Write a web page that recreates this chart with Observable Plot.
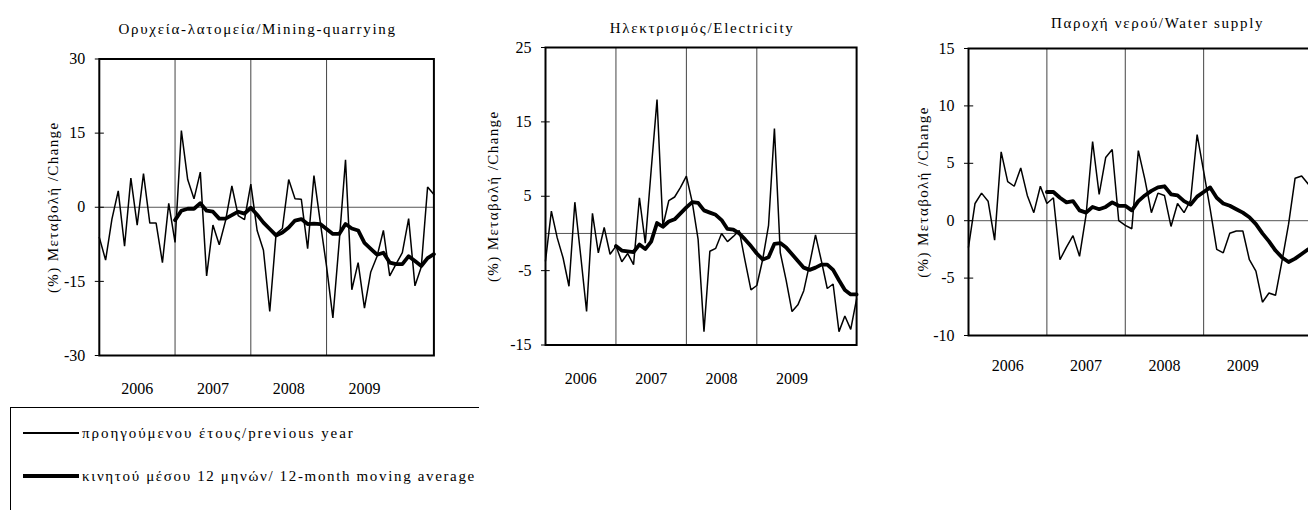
<!DOCTYPE html>
<html>
<head>
<meta charset="utf-8">
<script src="https://cdn.jsdelivr.net/npm/d3@7"></script>
<script src="https://cdn.jsdelivr.net/npm/@observablehq/plot@0.6"></script>
<style>
  body { margin: 0; background: white; }
  #root { position: relative; width: 1308px; height: 510px; overflow: hidden; background: white; font-family: "Liberation Serif", serif; }
  #root svg { position: absolute; top: 0; }
  .legend { position: absolute; left: 10px; top: 407px; width: 468px; height: 120px; border-left: 1px solid #000; border-top: 1px solid #000; }
  .legend .row { position: absolute; left: 12px; height: 16px; display: flex; align-items: center; font-size: 15px; white-space: nowrap; }
  .legend .sw { width: 56px; background: #000; margin-right: 3px; }
</style>
</head>
<body>
<div id="root"></div>
<script>
// ---------- data ----------
const years = ["2006", "2007", "2008", "2009"];
const monthsCount = 54; // Jan 2006 .. Jun 2010

const titles = ["Ορυχεία-λατομεία/Mining-quarrying", "Ηλεκτρισμός/Electricity", "Παροχή νερού/Water supply"];
const yLabel = "(%) Μεταβολή /Change";
const legendLabels = ["προηγούμενου έτους/previous year", "κινητού μέσου 12 μηνών/ 12-month moving average"];

// year-on-year change, monthly from Jan 2006
const miningYoY = [-6.1, -10.7, -2.4, 3.3, -7.9, 5.9, -3.6, 6.8, -3.2, -3.2, -11.2, 0.8,
  -7.1, 15.5, 5.6, 1.7, 7.1, -13.9, -3.6, -7.6, -2.7, 4.3, -1.7, -2.5,
  4.7, -4.7, -8.7, -21.1, -5.4, -4.3, 5.6, 1.7, 1.6, -8.4, 6.4, -3.0,
  -12.0, -22.4, -7.0, 9.6, -16.7, -11.2, -20.4, -13.1, -9.9, -4.7, -13.9, -11.5,
  -9.2, -2.3, -15.9, -12.1, 4.1, 2.6];
// 12-month moving average, monthly from Jan 2007
const miningMA = [-2.6, -0.7, -0.3, -0.3, 0.8, -0.7, -0.9, -2.3, -2.3, -1.6, -0.9, -1.3,
  -0.1, -1.5, -3.1, -4.4, -5.7, -5.1, -4.1, -2.7, -2.4, -3.4, -3.3, -3.4,
  -4.4, -5.4, -5.4, -3.4, -4.3, -4.7, -7.2, -8.4, -9.6, -9.2, -11.2, -11.5,
  -11.5, -9.9, -10.9, -11.9, -10.3, -9.5];

const elecYoY = [-3.7, 3.0, -0.6, -3.3, -7.1, 4.2, -3.0, -10.5, 2.7, -2.6, 0.8, -2.8,
  -1.7, -3.8, -2.7, -4.2, 4.8, -1.3, 8.5, 18.0, 1.0, 4.4, 4.9, 6.2,
  7.7, 4.2, -0.8, -13.2, -2.4, -2.0, 0.0, -1.1, -0.4, 0.4, -3.7, -7.6,
  -7.0, -3.5, 1.1, 14.1, -2.6, -6.3, -10.5, -9.6, -7.7, -4.1, -0.2, -3.7,
  -7.4, -6.8, -13.2, -11.1, -12.9, -8.8];
const elecMA = [-1.7, -2.3, -2.4, -2.5, -1.5, -2.1, -1.1, 1.4, 0.9, 1.6, 1.9, 2.7,
  3.5, 4.2, 4.1, 3.1, 2.8, 2.5, 1.8, 0.6, 0.5, 0.0, -0.8, -1.7,
  -2.7, -3.5, -3.2, -1.4, -1.3, -1.9, -2.8, -3.7, -4.6, -4.9, -4.6, -4.2,
  -4.2, -4.9, -6.3, -7.6, -8.2, -8.2];

const waterYoY = [-2.3, 1.5, 2.4, 1.7, -1.7, 6.0, 3.4, 3.0, 4.6, 2.2, 0.7, 3.0,
  1.5, 2.0, -3.4, -2.3, -1.3, -3.1, 0.5, 6.9, 2.3, 5.5, 6.2, 0.0,
  -0.4, -0.7, 6.1, 3.6, 0.7, 2.4, 2.2, -0.5, 1.5, 0.7, 1.8, 7.5,
  4.3, 1.0, -2.5, -2.8, -1.1, -0.9, -0.9, -3.4, -4.4, -7.1, -6.3, -6.5,
  -3.5, -0.3, 3.7, 3.9, 3.2, 2.5];
const waterMA = [2.5, 2.5, 2.0, 1.6, 1.7, 0.9, 0.7, 1.2, 1.0, 1.2, 1.6, 1.3,
  1.3, 0.9, 1.7, 2.2, 2.6, 2.9, 3.0, 2.3, 2.2, 1.7, 1.4, 2.1,
  2.5, 2.9, 2.0, 1.5, 1.3, 1.0, 0.7, 0.3, -0.3, -1.1, -1.8, -2.6,
  -3.2, -3.6, -3.3, -2.9, -2.5, -2.2];

const miningTicks = [-30, -15, 0, 15, 30];
const elecTicks = [-15, -5, 5, 15, 25];
const waterTicks = [-10, -5, 0, 5, 10, 15];

// ---------- drawing ----------
const maOffset = monthsCount - miningMA.length; // MA starts after first 12 months
const boundaries = years.slice(1).map((y, i) => (i + 1) * 12);

function panel(cfg) {
  const yoy = cfg.yoy.map((v, i) => ({m: i, v}));
  const ma = cfg.ma.map((v, i) => ({m: i + maOffset, v}));
  const svg = Plot.plot({
    width: cfg.width,
    height: 400,
    marginLeft: cfg.ml,
    marginRight: cfg.mr,
    marginTop: cfg.mt,
    marginBottom: cfg.mb,
    style: {fontFamily: "Liberation Serif, serif", fontSize: "16px", background: "transparent", overflow: "visible"},
    x: {domain: [0, monthsCount - 1], axis: null},
    y: {domain: cfg.domain, axis: null, label: null},
    marks: [
      Plot.ruleX(boundaries, {stroke: "#444", strokeWidth: 1}),
      Plot.ruleY([0], {stroke: "#555", strokeWidth: 1}),
      Plot.line(yoy, {x: "m", y: "v", stroke: "#000", strokeWidth: 1.5, strokeLinejoin: "miter"}),
      Plot.line(ma, {x: "m", y: "v", stroke: "#000", strokeWidth: 3.8, strokeLinejoin: "round"}),
      Plot.frame({stroke: "#000", strokeWidth: 2}),
      Plot.axisY(cfg.ticks, {label: null, tickSize: 4, tickPadding: 10, fontSize: 16, tickFormat: d => String(d)}),
      Plot.ruleY(cfg.ticks, {x1: 0, x2: 0.8, stroke: "#000"}),
      Plot.text(years, {x: (d, i) => i * 12 + 6, frameAnchor: "bottom", dy: cfg.yearDy, lineAnchor: "middle", fontSize: 16}),
      Plot.text([cfg.title], {frameAnchor: "top", dx: cfg.titleDx, dy: cfg.titleDy, lineAnchor: "middle", textAnchor: "middle", fontSize: 15}),
      Plot.text([yLabel], {frameAnchor: "left", rotate: -90, dx: cfg.labelDx, lineAnchor: "middle", textAnchor: "middle", fontSize: 15})
    ]
  });
  d3.select(svg).selectAll("text").each(function () {
    const t = this.textContent;
    if (t === cfg.title) this.style.letterSpacing = "1.7px";
    else if (t === yLabel) this.style.letterSpacing = "1.4px";
  });
  svg.style.left = cfg.left + "px";
  return svg;
}

const root = document.getElementById("root");
root.appendChild(panel({
  left: 0, width: 445, ml: 98.8, mr: 11.6, mt: 58.5, mb: 45,
  domain: [-30, 30], ticks: miningTicks, yoy: miningYoY, ma: miningMA,
  title: titles[0], titleDx: -9, titleDy: -29.5, labelDx: -46, yearDy: 33
}));
root.appendChild(panel({
  left: 440, width: 430, ml: 105, mr: 13.9, mt: 47, mb: 55.5,
  domain: [-15, 25], ticks: elecTicks, yoy: elecYoY, ma: elecMA,
  title: titles[1], titleDx: 1, titleDy: -19.5, labelDx: -52, yearDy: 33.5
}));
root.appendChild(panel({
  left: 870, width: 460, ml: 98, mr: 15.8, mt: 48, mb: 65,
  domain: [-10, 15], ticks: waterTicks, yoy: waterYoY, ma: waterMA,
  title: titles[2], titleDx: 16, titleDy: -25.5, labelDx: -45, yearDy: 30
}));

// legend
const legend = document.createElement("div");
legend.className = "legend";
[[legendLabels[0], 1.3, 17, 1.95], [legendLabels[1], 4, 60, 1.65]].forEach(([label, w, top, ls]) => {
  const row = document.createElement("div");
  row.className = "row";
  row.style.top = top + "px";
  row.style.letterSpacing = ls + "px";
  const sw = document.createElement("span");
  sw.className = "sw";
  sw.style.height = w + "px";
  row.appendChild(sw);
  row.appendChild(document.createTextNode(label));
  legend.appendChild(row);
});
root.appendChild(legend);
</script>
</body>
</html>
